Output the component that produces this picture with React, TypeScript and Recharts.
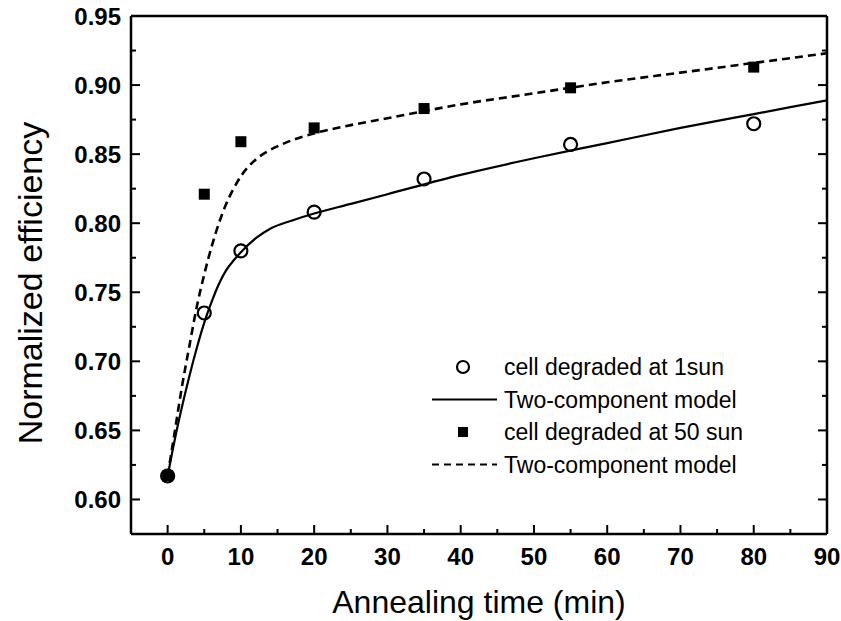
import React from "react"
import { ComposedChart, Line, Scatter, XAxis, YAxis, Legend } from "recharts"

// measured points
const times = [0, 5, 10, 20, 35, 55, 80]
const oneSun = [0.617, 0.735, 0.78, 0.808, 0.832, 0.857, 0.872]
const fiftySun = [0.617, 0.821, 0.859, 0.869, 0.883, 0.898, 0.913]

// two-component model curves
const solidTimes = [0, 1, 2, 3, 4, 5, 6, 7, 8, 9, 10, 12, 14, 17, 20, 25, 30, 40, 50, 60, 70, 80, 90]
const solidModel = [0.617, 0.644, 0.668, 0.69, 0.71, 0.728, 0.743, 0.756, 0.766, 0.773, 0.779, 0.789, 0.796, 0.802, 0.807, 0.814, 0.821, 0.835, 0.847, 0.858, 0.869, 0.879, 0.889]
const dashedTimes = [0, 1, 2, 3, 4, 5, 6, 7, 8, 9, 10, 12, 14, 16, 20, 25, 30, 40, 50, 60, 70, 80, 90]
const dashedModel = [0.617, 0.65, 0.683, 0.712, 0.74, 0.763, 0.783, 0.8, 0.814, 0.825, 0.834, 0.846, 0.853, 0.858, 0.865, 0.871, 0.876, 0.886, 0.894, 0.902, 0.909, 0.916, 0.923]

const xMajor = [0, 10, 20, 30, 40, 50, 60, 70, 80, 90]
const xTicks = [0, 5, 10, 15, 20, 25, 30, 35, 40, 45, 50, 55, 60, 65, 70, 75, 80, 85, 90]
const yMajor = [0.6, 0.65, 0.7, 0.75, 0.8, 0.85, 0.9, 0.95]
const yTicks = [0.6, 0.625, 0.65, 0.675, 0.7, 0.725, 0.75, 0.775, 0.8, 0.825, 0.85, 0.875, 0.9, 0.925, 0.95]

const legendItems = [
  { label: "cell degraded at 1sun", kind: "circle" },
  { label: "Two-component model", kind: "solid" },
  { label: "cell degraded at 50 sun", kind: "square" },
  { label: "Two-component model", kind: "dashed" },
]

const pts = (xs: number[], ys: number[]) => xs.map((t, i) => ({ t, eff: ys[i] }))

const FONT = "'Liberation Sans', Arial, Helvetica, sans-serif"
const X_GAP = 14
const Y_GAP = 10
const isMajorX = (v: number) => xMajor.includes(v)
const isMajorY = (v: number) => yMajor.some((m) => Math.abs(m - v) < 1e-6)

const BottomTick = ({ x, y, payload }: any) => {
  const major = isMajorX(payload.value)
  const axisY = y - X_GAP
  return (
    <g>
      <line x1={x} x2={x} y1={axisY} y2={axisY - (major ? 9 : 5)} stroke="#000" strokeWidth={2} />
      {major && (
        <text x={x} y={y} dy="0.71em" textAnchor="middle" fontFamily={FONT} fontSize={24} fontWeight="bold" fill="#000">
          {payload.value}
        </text>
      )}
    </g>
  )
}

const LeftTick = ({ x, y, payload }: any) => {
  const major = isMajorY(payload.value)
  const axisX = x + Y_GAP
  return (
    <g>
      <line x1={axisX} x2={axisX + (major ? 9 : 5)} y1={y} y2={y} stroke="#000" strokeWidth={2} />
      {major && (
        <text x={x} y={y} dy="0.36em" textAnchor="end" fontFamily={FONT} fontSize={24} fontWeight="bold" fill="#000">
          {payload.value.toFixed(2)}
        </text>
      )}
    </g>
  )
}

const TopTick = ({ x, y, payload }: any) => (
  <line x1={x} x2={x} y1={y} y2={y + (isMajorX(payload.value) ? 9 : 5)} stroke="#000" strokeWidth={2} />
)

const RightTick = ({ x, y, payload }: any) => (
  <line x1={x} x2={x - (isMajorY(payload.value) ? 9 : 5)} y1={y} y2={y} stroke="#000" strokeWidth={2} />
)

const OpenCircle = ({ cx, cy }: any) => <circle cx={cx} cy={cy} r={6.5} fill="none" stroke="#000" strokeWidth={2.2} />
const FilledSquare = ({ cx, cy }: any) => <rect x={cx - 5.5} y={cy - 5.5} width={11} height={11} fill="#000" />

const LegendBox = () => (
  <svg width={360} height={135} style={{ display: "block" }}>
    {legendItems.map((item, i) => {
      const cy = 17 + i * 32.5
      return (
        <g key={i}>
          {item.kind === "circle" && <circle cx={43} cy={cy} r={6} fill="none" stroke="#000" strokeWidth={2.2} />}
          {item.kind === "square" && <rect x={38} y={cy - 5} width={10} height={10} fill="#000" />}
          {item.kind === "solid" && <line x1={12} x2={77} y1={cy} y2={cy} stroke="#000" strokeWidth={2.2} />}
          {item.kind === "dashed" && (
            <line x1={12} x2={77} y1={cy} y2={cy} stroke="#000" strokeWidth={2.2} strokeDasharray="7 5" />
          )}
          <text x={84} y={cy} dy="0.36em" fontFamily={FONT} fontSize={23} fill="#000">
            {item.label}
          </text>
        </g>
      )
    })}
  </svg>
)

export default function App() {
  const axisLine = { stroke: "#000", strokeWidth: 2.5 }
  return (
    <div style={{ position: "absolute", left: 0, top: 0, background: "#fff" }}>
      <ComposedChart width={841} height={621} margin={{ top: 0, right: 0, bottom: 0, left: 0 }}>
        <XAxis
          xAxisId="bottom"
          dataKey="t"
          type="number"
          domain={[-5, 90]}
          allowDataOverflow
          ticks={xTicks}
          interval={0}
          height={87}
          tickLine={false}
          tickSize={0}
          tickMargin={X_GAP}
          tick={BottomTick}
          axisLine={axisLine}
          label={{
            content: ({ viewBox }: any) => (
              <text
                x={viewBox.x + viewBox.width / 2}
                y={viewBox.y + 79}
                textAnchor="middle"
                fontFamily={FONT}
                fontSize={32}
                fill="#000"
              >
                Annealing time (min)
              </text>
            ),
          }}
        />
        <XAxis
          xAxisId="top"
          orientation="top"
          type="number"
          domain={[-5, 90]}
          allowDataOverflow
          ticks={xTicks}
          interval={0}
          height={16}
          tickLine={false}
          tickSize={0}
          tickMargin={0}
          tick={TopTick}
          axisLine={axisLine}
        />
        <YAxis
          yAxisId="left"
          type="number"
          domain={[0.575, 0.95]}
          allowDataOverflow
          ticks={yTicks}
          interval={0}
          width={131}
          tickLine={false}
          tickSize={0}
          tickMargin={Y_GAP}
          tick={LeftTick}
          axisLine={axisLine}
          label={{
            content: ({ viewBox }: any) => {
              const cx = viewBox.x + 42
              const cy = viewBox.y + viewBox.height / 2 + 8
              return (
                <text
                  x={cx}
                  y={cy}
                  textAnchor="middle"
                  transform={`rotate(-90, ${cx}, ${cy})`}
                  fontFamily={FONT}
                  fontSize={34}
                  fill="#000"
                >
                  Normalized efficiency
                </text>
              )
            },
          }}
        />
        <YAxis
          yAxisId="right"
          orientation="right"
          type="number"
          domain={[0.575, 0.95]}
          allowDataOverflow
          ticks={yTicks}
          interval={0}
          width={14}
          tickLine={false}
          tickSize={0}
          tickMargin={0}
          tick={RightTick}
          axisLine={axisLine}
        />
        <Line
          xAxisId="bottom"
          yAxisId="left"
          data={pts(solidTimes, solidModel)}
          dataKey="eff"
          type="monotone"
          stroke="#000"
          strokeWidth={2.2}
          dot={false}
          activeDot={false}
          isAnimationActive={false}
          legendType="none"
        />
        <Line
          xAxisId="bottom"
          yAxisId="left"
          data={pts(dashedTimes, dashedModel)}
          dataKey="eff"
          type="monotone"
          stroke="#000"
          strokeWidth={2.6}
          strokeDasharray="8 5"
          dot={false}
          activeDot={false}
          isAnimationActive={false}
          legendType="none"
        />
        <Scatter
          xAxisId="bottom"
          yAxisId="left"
          data={pts(times, oneSun)}
          dataKey="eff"
          shape={OpenCircle}
          isAnimationActive={false}
        />
        <Scatter
          xAxisId="bottom"
          yAxisId="left"
          data={pts(times, fiftySun)}
          dataKey="eff"
          shape={FilledSquare}
          isAnimationActive={false}
        />
        <Legend
          layout="vertical"
          align="center"
          verticalAlign="middle"
          content={LegendBox}
          wrapperStyle={{ position: "absolute", left: 420, top: 350, width: 360, height: 135 }}
        />
      </ComposedChart>
    </div>
  )
}
